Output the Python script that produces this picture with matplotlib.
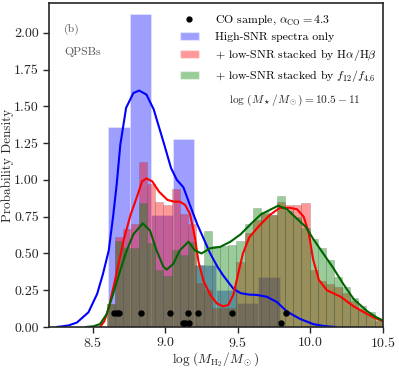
import numpy as np
import matplotlib.pyplot as plt
from matplotlib.lines import Line2D
from matplotlib.patches import Patch

plt.rcParams['font.family'] = ['cmr10', 'DejaVu Serif']
plt.rcParams['mathtext.fontset'] = 'cm'
plt.rcParams['axes.formatter.use_mathtext'] = True
plt.rcParams['axes.unicode_minus'] = False

# histogram heights (probability density)
blue_range = (8.607, 9.791)
blue_hist = [1.36, 2.13, 0.76, 1.28, 0.42, 0.25, 0.16, 0.34]

fine_range = (8.595, 10.5)
red_hist = [0.155, 0.614, 0.667, 0.70, 1.12, 0.97, 0.85, 0.83, 0.94, 0.77,
            0.70, 0.30, 0.25, 0.13, 0.13, 0.13, 0.44, 0.64, 0.73, 0.77,
            0.76, 0.85, 0.83, 0.83, 0.84, 0.39, 0.31, 0.29, 0.27, 0.23,
            0.18, 0.12, 0.08, 0.04]
green_hist = [0.155, 0.585, 0.535, 0.54, 0.84, 0.57, 0.39, 0.35, 0.52, 0.49,
              0.58, 0.42, 0.65, 0.55, 0.55, 0.56, 0.585, 0.70, 0.81, 0.78,
              0.76, 0.89, 0.79, 0.75, 0.67, 0.60, 0.54, 0.456, 0.34, 0.27,
              0.195, 0.14, 0.10, 0.048]

# KDE curves
blue_kde_x = [8.25, 8.33, 8.39, 8.47, 8.53, 8.57, 8.61, 8.64, 8.665, 8.69, 8.73,
              8.78, 8.82, 8.87, 8.92, 8.99, 9.04, 9.08, 9.125, 9.17, 9.22, 9.265,
              9.31, 9.36, 9.40, 9.47, 9.52, 9.58, 9.63, 9.70, 9.77, 9.84, 9.93,
              10.02, 10.10, 10.18]
blue_kde_y = [0.0, 0.01, 0.03, 0.10, 0.225, 0.36, 0.52, 0.75, 0.97, 1.24, 1.49,
              1.59, 1.607, 1.58, 1.48, 1.25, 1.08, 1.00, 0.95, 0.83, 0.70, 0.60,
              0.50, 0.41, 0.35, 0.26, 0.23, 0.22, 0.218, 0.206, 0.17, 0.105, 0.055,
              0.02, 0.006, 0.0]

red_kde_x = [8.55, 8.58, 8.61, 8.647, 8.68, 8.715, 8.76, 8.81, 8.84, 8.87, 8.91,
             8.957, 9.015, 9.06, 9.10, 9.137, 9.17, 9.19, 9.206, 9.23, 9.265, 9.31,
             9.356, 9.40, 9.436, 9.47, 9.505, 9.536, 9.58, 9.65, 9.72, 9.79, 9.86,
             9.91, 9.955, 9.99, 10.02, 10.06, 10.115, 10.21, 10.30, 10.39, 10.45, 10.5]
red_kde_y = [0.0, 0.04, 0.13, 0.29, 0.44, 0.60, 0.76, 0.90, 0.99, 1.01, 0.99,
             0.92, 0.864, 0.852, 0.852, 0.83, 0.77, 0.68, 0.60, 0.44, 0.31, 0.22,
             0.16, 0.14, 0.15, 0.22, 0.37, 0.50, 0.61, 0.69, 0.76, 0.81, 0.81,
             0.80, 0.75, 0.64, 0.46, 0.32, 0.25, 0.206, 0.14, 0.09, 0.06, 0.04]

green_kde_x = [8.45, 8.505, 8.55, 8.596, 8.64, 8.688, 8.734, 8.78, 8.845, 8.895,
               8.94, 8.987, 9.01, 9.056, 9.10, 9.16, 9.206, 9.25, 9.31, 9.38, 9.45,
               9.52, 9.59, 9.66, 9.72, 9.78, 9.84, 9.91, 9.97, 10.02, 10.09, 10.16,
               10.23, 10.30, 10.39, 10.45, 10.5]
green_kde_y = [0.0, 0.005, 0.02, 0.088, 0.224, 0.38, 0.52, 0.63, 0.705, 0.655,
               0.52, 0.41, 0.39, 0.43, 0.52, 0.58, 0.52, 0.50, 0.535, 0.545, 0.58,
               0.63, 0.70, 0.765, 0.795, 0.825, 0.80, 0.735, 0.68, 0.60, 0.50, 0.40,
               0.29, 0.19, 0.11, 0.07, 0.045]

# CO sample points
co_x = [8.647, 8.665, 8.679, 8.832, 9.036, 9.155, 9.226, 9.461, 9.833,
        9.119, 9.136, 9.165, 9.797]
co_y = [0.098, 0.098, 0.098, 0.098, 0.098, 0.098, 0.098, 0.098, 0.098,
        0.027, 0.027, 0.027, 0.027]

labels = [r'CO sample, $\alpha_{\rm CO} = 4.3$',
          'High-SNR spectra only',
          r'+ low-SNR stacked by H$\alpha$/H$\beta$',
          r'+ low-SNR stacked by $f_{12}/f_{4.6}$']

fig = plt.figure(figsize=(3.99, 3.68), dpi=100)
ax = fig.add_axes([0.1236, 0.1114, 0.8354, 0.8796])

# histograms
edges = np.linspace(blue_range[0], blue_range[1], len(blue_hist) + 1)
ax.bar(edges[:-1], blue_hist, width=np.diff(edges), align='edge',
       color='blue', alpha=0.38, edgecolor='white', linewidth=0.6)
edges = np.linspace(fine_range[0], fine_range[1], len(red_hist) + 1)
ax.bar(edges[:-1], red_hist, width=np.diff(edges), align='edge',
       color='red', alpha=0.4, edgecolor='0.35', linewidth=0.4)
ax.bar(edges[:-1], green_hist, width=np.diff(edges), align='edge',
       color='green', alpha=0.4, edgecolor='0.35', linewidth=0.4)

# kde lines
ax.plot(blue_kde_x, blue_kde_y, color='blue', lw=1.5)
ax.plot(red_kde_x, red_kde_y, color='red', lw=1.5)
ax.plot(green_kde_x, green_kde_y, color='darkgreen', lw=1.5)

ax.scatter(co_x, co_y, s=13, color='k', zorder=5)

ax.set_xlim(8.2, 10.5)
ax.set_ylim(0, 2.2)
ax.set_xticks([8.5, 9.0, 9.5, 10.0, 10.5])
ax.set_yticks(np.arange(0, 2.01, 0.25))
ax.yaxis.set_major_formatter(plt.FormatStrFormatter('%.2f'))
ax.tick_params(direction='out', length=4, width=1, labelsize=10, colors='0.15')
ax.tick_params(axis='x', pad=2.5)
for s in ax.spines.values():
    s.set_linewidth(1.2)
    s.set_color('0.15')

ax.set_xlabel(r'$\log\,(M_{\rm H_2}/M_\odot)$', fontsize=9.5, color='0.15', labelpad=0)
ax.set_ylabel('Probability Density', fontsize=9.5, color='0.15')
ax.yaxis.set_label_coords(-0.105, 0.5)

handles = [Line2D([], [], marker='o', ls='none', color='k', markersize=3.5),
           Patch(facecolor='blue', alpha=0.38, edgecolor='white'),
           Patch(facecolor='red', alpha=0.4, edgecolor='white'),
           Patch(facecolor='green', alpha=0.4, edgecolor='white')]
ax.legend(handles, labels, loc='upper left', bbox_to_anchor=(0.378, 0.982),
          frameon=False, fontsize=8.5, handlelength=1.6, handletextpad=1.35,
          labelspacing=0.42, borderaxespad=0)

ax.text(0.737, 0.70, r'$\log\,(M_\star/M_\odot) = 10.5 - 11$', transform=ax.transAxes,
        ha='center', va='center', fontsize=8.2, color='0.15')
ax.text(0.045, 0.92, '(b)', transform=ax.transAxes, fontsize=8.5, color='0.35', va='center')
ax.text(0.045, 0.85, 'QPSBs', transform=ax.transAxes, fontsize=8.5, color='0.35', va='center')

fig.savefig('out.png', dpi=100)
